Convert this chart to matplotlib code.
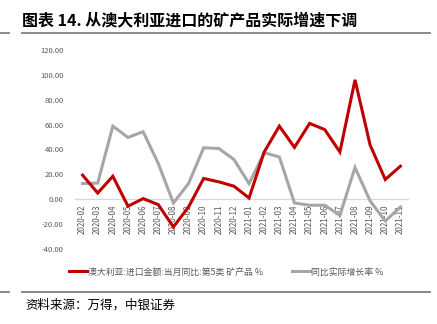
import matplotlib
matplotlib.use("Agg")
import matplotlib.pyplot as plt
from matplotlib.lines import Line2D

plt.rcParams['font.family'] = ['Noto Sans CJK SC', 'DejaVu Sans']

categories = ["2020-02", "2020-03", "2020-04", "2020-05", "2020-06", "2020-07",
              "2020-08", "2020-09", "2020-10", "2020-11", "2020-12", "2021-01",
              "2021-02", "2021-03", "2021-04", "2021-05", "2021-06", "2021-07",
              "2021-08", "2021-09", "2021-10", "2021-11"]
import_yoy = [19.4, 5.0, 18.5, -5.6, 0.5, -4.3, -22.3, -6.2, 16.7, 14.0, 10.5, 1.0,
              38.0, 58.8, 41.7, 61.0, 56.0, 38.0, 96.0, 43.5, 15.9, 26.6]
real_yoy = [12.6, 13.0, 58.8, 49.7, 54.3, 28.8, -3.0, 12.6, 41.4, 40.8, 32.0, 12.6,
            37.4, 34.0, -3.0, -4.8, -4.8, -12.9, 25.5, -1.4, -17.5, -6.2]
series_names = ["澳大利亚:进口金额:当月同比:第5类 矿产品 %", "同比实际增长率 %"]
title = "图表 14. 从澳大利亚进口的矿产品实际增速下调"
source = "资料来源：万得，中银证券"
yticks = [-40, -20, 0, 20, 40, 60, 80, 100, 120]

W, H = 437, 324
fig = plt.figure(figsize=(W / 100, H / 100), dpi=100)

def fx(px):
    return px / W

def fy(py):
    return 1 - py / H

ax = fig.add_axes([fx(75), fy(249), fx(408) - fx(75), fy(50) - fy(249)])
x = list(range(len(categories)))
red = "#C00000"
gray = "#A6A6A6"
ax.plot(x, real_yoy, color=gray, lw=2.2, solid_joinstyle='miter', zorder=3)
ax.plot(x, import_yoy, color=red, lw=2.2, solid_joinstyle='miter', zorder=4)

ax.set_xlim(-0.5, len(categories) - 0.5)
ax.set_ylim(-40, 120)
ax.set_yticks(yticks)
ax.set_yticklabels([f"{v:.2f}" for v in yticks])
ax.set_xticks(x)
ax.set_xticklabels(categories)

for s in ['top', 'right', 'left']:
    ax.spines[s].set_visible(False)
ax.spines['bottom'].set_position(('data', 0))
ax.spines['bottom'].set_color('#D9D9D9')
ax.spines['bottom'].set_linewidth(0.9)
ax.spines['bottom'].set_zorder(1)
ax.tick_params(axis='both', length=0, colors='#595959', labelsize=5.5)
ax.tick_params(axis='x', labelsize=5.8)
ax.tick_params(axis='y', pad=8)
ax.tick_params(axis='x', pad=4, labelrotation=90)
ax.patch.set_alpha(0)

# title and rules
fig.text(fx(22), fy(20), title, fontsize=11.5, fontweight='bold', color='black',
         va='center', ha='left')
for yy in (33, 292):
    fig.add_artist(Line2D([fx(22), fx(430)], [fy(yy), fy(yy)], color='#7F7F7F', lw=1.3))
    fig.add_artist(Line2D([fx(0), fx(9)], [fy(yy), fy(yy)], color='#7F7F7F', lw=1.3))

# legend
handles = [Line2D([], [], color=red, lw=2.2), Line2D([], [], color=gray, lw=2.2)]
fig.legend(handles, series_names, loc='center', bbox_to_anchor=(fx(226), fy(272)),
           ncol=2, frameon=False, fontsize=6.4, handlelength=2.0, handletextpad=0.1,
           columnspacing=3.3, labelcolor='#595959')

fig.text(fx(25), fy(305), source, fontsize=9, style='italic', color='black',
         va='center', ha='left')

fig.savefig("out.png", dpi=100)
